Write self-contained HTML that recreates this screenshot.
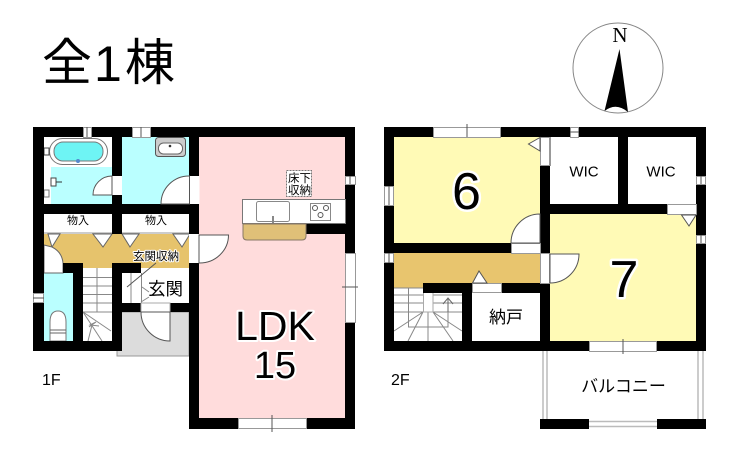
<!DOCTYPE html>
<html><head><meta charset="utf-8"><style>
html,body{margin:0;padding:0;background:#fff}
svg{display:block}
text{font-family:"Liberation Sans","Noto Sans CJK JP",sans-serif;fill:#000}
.h{paint-order:stroke;stroke:#fff;stroke-linejoin:round}
</style></head><body>
<svg width="740" height="452" viewBox="0 0 740 452" xmlns="http://www.w3.org/2000/svg">
<rect width="740" height="452" fill="#fff"/>
<text x="42" y="80" font-size="50">全</text>
<text x="94" y="81" font-size="50">1</text>
<text x="125" y="80" font-size="50">棟</text>

<!-- compass -->
<circle cx="618" cy="68" r="45" fill="#fff" stroke="#888" stroke-width="1"/>
<text x="620" y="42" font-size="21" text-anchor="middle" style="font-family:'Liberation Serif',serif">N</text>
<path d="M619.500 49L604.500 111Q616 102 628 112Z" fill="#000"/>

<!-- 1F fills -->
<rect x="199" y="137" width="146" height="281" fill="#ffdcdc"/>
<rect x="51" y="167" width="61" height="37" fill="#baffff"/>
<rect x="122" y="137" width="68" height="67" fill="#baffff"/>
<rect x="44" y="234" width="146" height="34" fill="#e6c36c"/>
<rect x="44" y="273" width="29" height="68" fill="#baffff"/>
<rect x="117" y="312" width="72" height="44" fill="#dcdcdc" stroke="#999" stroke-width="1"/>
<rect x="121" y="273" width="68" height="30" fill="#fff"/>
<rect x="83" y="268" width="29" height="73" fill="#fff"/>

<!-- tub -->
<rect x="49.500" y="138.500" width="58" height="26" rx="13" fill="#fff" stroke="#777" stroke-width="1"/>
<rect x="54" y="142" width="49" height="19" rx="9" fill="#6ef4f4" stroke="#777" stroke-width="1"/>
<circle cx="78" cy="161" r="2" fill="#58c" />
<rect x="44" y="148" width="5" height="7" fill="#fff" stroke="#444"/>
<rect x="51" y="178" width="5" height="8" fill="#fff" stroke="#444"/>
<line x1="56" y1="182" x2="62" y2="182" stroke="#333"/>
<rect x="44" y="190" width="5" height="7" fill="#fff" stroke="#777"/>
<!-- basin -->
<rect x="155.500" y="137.500" width="30" height="19" rx="3" fill="#ccc" stroke="#555"/>
<rect x="158.500" y="143" width="24" height="11" rx="5" fill="#fff" stroke="#666"/>
<circle cx="170" cy="146" r="1.300" fill="#333"/>

<!-- toilet -->
<path d="M50 341V322Q50 311 58 311Q66 311 66 322V341Z" fill="#fff" stroke="#777"/>
<path d="M50 330H66M50 333H66" stroke="#666"/>

<!-- storage -->
<rect x="44" y="214" width="68" height="20" fill="#fff"/>
<rect x="122" y="214" width="68" height="20" fill="#fff"/>
<line x1="44" y1="233" x2="112" y2="233" stroke="#999"/>
<line x1="122" y1="233" x2="190" y2="233" stroke="#999"/>
<g fill="#fff" stroke="#666" stroke-width="1">
<path d="M48 234H60L52 247Z"/>
<path d="M93 234H112L103 247Z"/>
<path d="M122 234H139L130 247Z"/>
<path d="M173 234H190L182 247Z"/>
<path d="M44 245L52 247Q62 252 63 263V273H44Z"/>
</g>
<text x="78" y="224" font-size="11" text-anchor="middle" class="h" stroke-width="2">物入</text>
<text x="156" y="224" font-size="11" text-anchor="middle" class="h" stroke-width="2">物入</text>
<text x="156" y="260" font-size="11.500" text-anchor="middle" class="h" stroke-width="2">玄関収納</text>

<!-- stairs 1F -->
<g stroke="#888" stroke-width="1" fill="none">
<path d="M83 277.500H112M83 286H112M83 294.500H112M83 303H112M83 312H112"/>
<path d="M97 268V312"/>
<path d="M83 312L111 331M83 312L102 341M92 325L88 341"/>
<path d="M89 327L96 322L90 325L99 326"/>
<path d="M131 273V303M141.500 273V303"/>
<path d="M142 287L149 292M141 302L149 297"/>
<path d="M156 263L127 287" stroke="#555"/>
</g>

<!-- Walls 1F -->
<g fill="#000">
<rect x="33" y="127" width="322" height="10"/>
<rect x="33" y="127" width="11" height="224"/>
<rect x="33" y="341" width="88" height="10"/>
<rect x="112" y="137" width="10" height="97"/>
<rect x="33" y="204" width="166" height="10"/>
<rect x="189" y="127" width="10" height="107"/>
<rect x="189" y="263" width="10" height="166"/>
<rect x="345" y="127" width="10" height="302"/>
<rect x="189" y="418" width="166" height="11"/>
<rect x="63" y="263" width="20" height="10"/>
<rect x="73" y="263" width="10" height="88"/>
<rect x="112" y="263" width="10" height="88"/>
<rect x="112" y="263" width="29" height="10"/>
<rect x="112" y="303" width="29" height="9"/>
<rect x="170" y="303" width="19" height="9"/>
<rect x="306" y="224" width="39" height="10"/>
</g>

<!-- windows 1F -->
<g fill="#fff" stroke="#999" stroke-width="1">
<rect x="83.500" y="127.500" width="8" height="10"/>
<rect x="132.500" y="127.500" width="18" height="10"/>
<rect x="33.500" y="293.500" width="10" height="9"/>
<rect x="345.500" y="176.500" width="10" height="8"/>
<rect x="345.500" y="253.500" width="10" height="69"/>
<rect x="238.500" y="418.500" width="68" height="10"/>
</g>
<path d="M87 127V137M141 127V137M33 298H44M350 176V184M342 287H358M272 415V432" stroke="#555" stroke-width="1"/>

<!-- doors 1F -->
<g fill="#fff" stroke="#555" stroke-width="1">
<rect x="112" y="176" width="10" height="19" stroke="none"/>
<path d="M112 176A19 19 0 0 0 93 195H112Z"/>
<rect x="189.500" y="176" width="10" height="28" stroke="none"/>
<path d="M189.500 176A28 28 0 0 0 161 204H189.500Z"/>
<rect x="189" y="234" width="10" height="29" stroke="none"/>
<path d="M199 235H228.500A29 28 0 0 1 199 263Z"/>
<rect x="141" y="303" width="29" height="9" stroke="#aaa"/>
<path d="M141 312A29 29 0 0 0 170 341V312Z"/>
</g>

<!-- kitchen -->
<rect x="242.500" y="199.500" width="103" height="24" fill="#fff" stroke="#777"/>
<rect x="256.500" y="201.500" width="33" height="20" rx="2" fill="#fff" stroke="#888"/>
<line x1="273" y1="216" x2="273" y2="223" stroke="#888" stroke-width="2"/>
<rect x="310.500" y="203.500" width="20" height="17" fill="#fff" stroke="#888"/>
<g fill="none" stroke="#555"><circle cx="315" cy="208" r="2.500"/><circle cx="326" cy="208" r="2.500"/><circle cx="320.500" cy="215" r="2.500"/></g>
<path d="M243 224H306V236Q306 240 302 240H247Q243 240 243 236Z" fill="#e0c078" stroke="#876" stroke-width="1"/>
<rect x="286.500" y="170.500" width="25" height="26" fill="#fff" stroke="#777" stroke-dasharray="2 1"/>
<text x="299.500" y="182" font-size="11.500" text-anchor="middle">床下</text>
<text x="299.500" y="194" font-size="11.500" text-anchor="middle">収納</text>

<text x="165.500" y="295" font-size="17.500" text-anchor="middle" class="h" stroke-width="2">玄関</text>
<text x="275" y="340" font-size="41" text-anchor="middle" class="h" stroke-width="4">LDK</text>
<text x="275" y="378" font-size="38" text-anchor="middle" class="h" stroke-width="4">15</text>
<text x="42" y="385" font-size="16">1F</text>
<text x="391" y="385" font-size="16">2F</text>

<!-- 2F fills -->
<rect x="394" y="137" width="146" height="106" fill="#fffab6"/>
<rect x="394" y="253" width="146" height="30" fill="#e8c56e"/>
<rect x="394" y="283" width="29" height="5" fill="#e8c56e"/>
<rect x="550" y="214" width="146" height="127" fill="#fffab6"/>
<rect x="394" y="288" width="68" height="53" fill="#fff"/>

<!-- stairs 2F -->
<g stroke="#888" stroke-width="1" fill="none">
<path d="M394 288H423M394 295H423M394 303H423M394 312H423M433 295H462M433 303H462M433 312H462"/>
<path d="M408.500 288V327H448V312M428 312V341M394 331L423 312M408 341L423 312M433 312L453 341M433 312L462 331"/>
</g>
<rect x="423.500" y="292" width="9.500" height="20" fill="#fff" stroke="#aaa"/>
<path d="M448 312V299M443 304L448 298L453 304" stroke="#666" fill="none"/>

<!-- Walls 2F -->
<g fill="#000">
<rect x="384" y="127" width="322" height="10"/>
<rect x="384" y="127" width="10" height="224"/>
<rect x="696" y="127" width="10" height="224"/>
<rect x="384" y="341" width="322" height="10"/>
<rect x="384" y="243" width="127" height="10"/>
<rect x="540" y="166" width="10" height="87"/>
<rect x="540" y="204" width="127" height="10"/>
<rect x="618" y="137" width="10" height="67"/>
<rect x="423" y="283" width="127" height="10"/>
<rect x="462" y="283" width="10" height="58"/>
<rect x="540" y="283" width="10" height="68"/>
</g>

<!-- windows 2F -->
<g fill="#fff" stroke="#999" stroke-width="1">
<rect x="433.500" y="127.500" width="67" height="10"/>
<rect x="384.500" y="186.500" width="9" height="19"/>
<rect x="384.500" y="253.500" width="9" height="9"/>
<rect x="570.500" y="127.500" width="8" height="10"/>
<rect x="696.500" y="176.500" width="9" height="8"/>
<rect x="696.500" y="235.500" width="9" height="8"/>
<rect x="589.500" y="341.500" width="67" height="10"/>
<rect x="472.500" y="283.500" width="29" height="9"/>
<rect x="511.500" y="243.500" width="29" height="10"/>
<rect x="667.500" y="204.500" width="29" height="10"/>
<rect x="540.500" y="137.500" width="9" height="28"/>
<rect x="540.500" y="253.500" width="9" height="30"/>
</g>
<path d="M467 124V137M389 186V205M389 253V263M570 132H579M701 176V184M701 235V243M623 339V354" stroke="#555" stroke-width="1"/>
<line x1="550.500" y1="137" x2="550.500" y2="166" stroke="#999"/>
<g fill="#fff" stroke="#555" stroke-width="1">
<path d="M540 214A29 29 0 0 0 511 243H540Z"/>
<path d="M550 254H579A29 29 0 0 1 550 283Z"/>
<path d="M540 137.500L528.500 144L540 151Z"/>
<path d="M681.500 215L696 215L689 226Z"/>
<path d="M472.500 283L479 271L487 283Z"/>
</g>
<rect x="472" y="293" width="68" height="48" fill="#fff"/>

<!-- balcony -->
<g stroke="#bbb" stroke-width="1.500" fill="none">
<path d="M543 351V420M547 351V420M698 351V420M703 351V420M589 421.500H657M589 426.500H657"/>
</g>
<rect x="540" y="419" width="49" height="10" fill="#000"/>
<rect x="657" y="419" width="49" height="10" fill="#000"/>

<text x="466.500" y="209" font-size="52" text-anchor="middle" class="h" stroke-width="5">6</text>
<text x="624" y="297" font-size="52" text-anchor="middle" class="h" stroke-width="5">7</text>
<text x="584" y="176.500" font-size="15" text-anchor="middle">WIC</text>
<text x="661" y="176.500" font-size="15" text-anchor="middle">WIC</text>
<text x="506" y="323" font-size="17" text-anchor="middle">納戸</text>
<text x="623.500" y="392" font-size="17" text-anchor="middle">バルコニー</text>
</svg>
</body></html>
